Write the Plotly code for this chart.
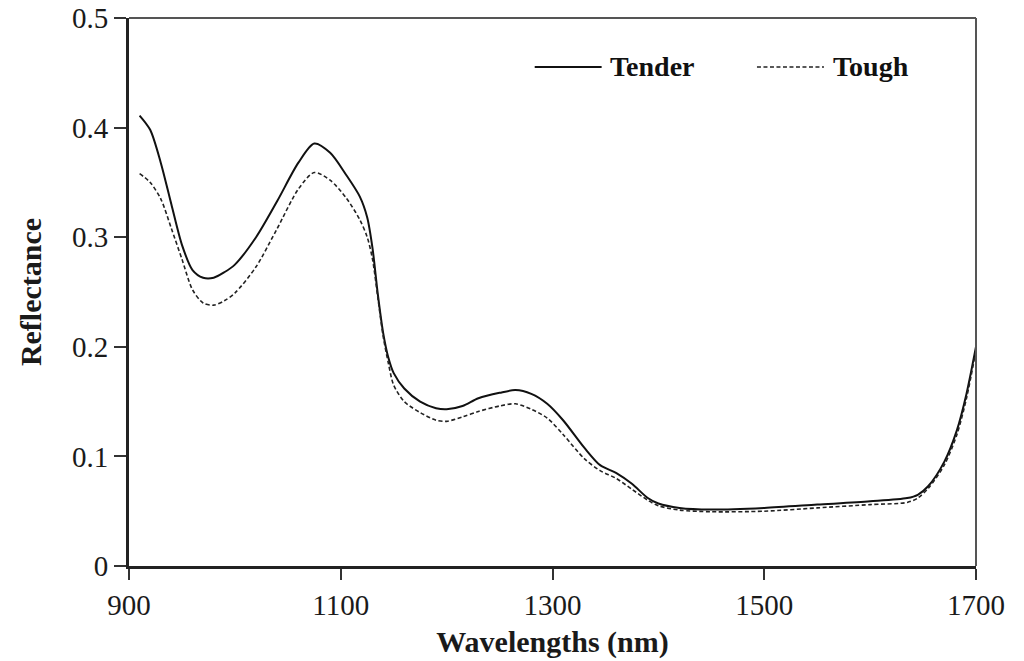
import plotly.graph_objects as go

wavelengths = [910, 920, 930, 940, 950, 960, 970, 980, 990, 1000, 1020, 1040, 1060, 1075,
               1090, 1105, 1118, 1125, 1130, 1135, 1140, 1145, 1150, 1160, 1175, 1190, 1200,
               1215, 1230, 1250, 1265, 1280, 1295, 1310, 1330, 1345, 1360, 1375, 1390, 1400,
               1420, 1450, 1500, 1550, 1600, 1635, 1645, 1655, 1670, 1682, 1691, 1700]

tender = [0.411, 0.398, 0.368, 0.330, 0.293, 0.270, 0.263, 0.263, 0.268, 0.275, 0.300, 0.333,
          0.368, 0.3855, 0.377, 0.357, 0.337, 0.318, 0.290, 0.248, 0.213, 0.190, 0.176, 0.162,
          0.150, 0.144, 0.143, 0.146, 0.153, 0.158, 0.1605, 0.157, 0.148, 0.133, 0.108, 0.092,
          0.085, 0.075, 0.062, 0.057, 0.053, 0.0515, 0.053, 0.056, 0.059, 0.062, 0.065, 0.073,
          0.095, 0.124, 0.157, 0.200]

tough = [0.358, 0.350, 0.335, 0.308, 0.280, 0.252, 0.240, 0.238, 0.242, 0.249, 0.273, 0.308,
         0.344, 0.359, 0.352, 0.336, 0.316, 0.300, 0.280, 0.245, 0.210, 0.185, 0.165, 0.150,
         0.140, 0.133, 0.132, 0.136, 0.141, 0.146, 0.148, 0.143, 0.135, 0.120, 0.098, 0.087,
         0.080, 0.070, 0.060, 0.055, 0.051, 0.0495, 0.050, 0.053, 0.056, 0.058, 0.062, 0.071,
         0.092, 0.120, 0.153, 0.197]

x_ticks = [900, 1100, 1300, 1500, 1700]
y_ticks = [0, 0.1, 0.2, 0.3, 0.4, 0.5]
y_tick_labels = ["0", "0.1", "0.2", "0.3", "0.4", "0.5"]
series_names = ["Tender", "Tough"]

FONT = "Liberation Serif, Times New Roman, serif"

fig = go.Figure()
fig.add_trace(go.Scatter(x=wavelengths, y=tender, mode="lines", name=series_names[0],
                         line=dict(color="#111111", width=2, shape="spline", smoothing=0.8),
                         showlegend=False))
fig.add_trace(go.Scatter(x=wavelengths, y=tough, mode="lines", name=series_names[1],
                         line=dict(color="#222222", width=1.6, dash="4px,2.5px",
                                   shape="spline", smoothing=0.8),
                         showlegend=False))

# top and right frame (thin grey)
fig.add_shape(type="line", xref="paper", yref="paper", x0=0, x1=1, y0=1, y1=1,
              line=dict(color="#555555", width=2))
fig.add_shape(type="line", xref="paper", yref="paper", x0=1, x1=1, y0=0, y1=1,
              line=dict(color="#555555", width=2))

# legend (manual, long sample lines)
fig.add_shape(type="line", xref="paper", yref="paper", x0=0.479, x1=0.558, y0=0.9106, y1=0.9106,
              line=dict(color="#111111", width=2))
fig.add_shape(type="line", xref="paper", yref="paper", x0=0.7414, x1=0.8205, y0=0.9106, y1=0.9106,
              line=dict(color="#222222", width=1.6, dash="4px,2.5px"))
fig.add_annotation(xref="paper", yref="paper", x=0.566, y=0.9106, text="<b>Tender</b>",
                   showarrow=False, xanchor="left", yanchor="middle",
                   font=dict(family=FONT, size=28, color="#111111"))
fig.add_annotation(xref="paper", yref="paper", x=0.829, y=0.9106, text="<b>Tough</b>",
                   showarrow=False, xanchor="left", yanchor="middle",
                   font=dict(family=FONT, size=28, color="#111111"))

fig.update_layout(
    width=1024, height=661,
    margin=dict(l=129, r=48, t=18, b=95),
    paper_bgcolor="white", plot_bgcolor="white",
    font=dict(family=FONT, color="#1a1a1a"),
)
fig.update_xaxes(range=[900, 1700], tickvals=x_ticks, ticktext=[str(v) for v in x_ticks],
                 ticks="outside", ticklen=11, tickwidth=2, tickcolor="#333333",
                 showline=True, linewidth=3, linecolor="#222222", showgrid=False, zeroline=False,
                 automargin=False, ticklabeloverflow="allow",
                 tickfont=dict(family=FONT, size=29, color="#1a1a1a"),
                 title=dict(text="<b>Wavelengths (nm)</b>", font=dict(family=FONT, size=30, color="#1a1a1a"),
                            standoff=12))
fig.update_yaxes(range=[0, 0.5], tickvals=y_ticks, ticktext=y_tick_labels,
                 ticks="outside", ticklen=12, tickwidth=2, tickcolor="#333333",
                 showline=True, linewidth=3, linecolor="#222222", showgrid=False, zeroline=False,
                 automargin=False, ticklabeloverflow="allow",
                 tickfont=dict(family=FONT, size=29, color="#1a1a1a"),
                 title=dict(text="<b>Reflectance</b>", font=dict(family=FONT, size=30, color="#1a1a1a"),
                            standoff=22))

# remove the default 8px page margin so the 1024x661 figure fills the window exactly
fig.write_html("out.html", config={"displayModeBar": False},
               post_script="document.body.style.margin='0px';")
